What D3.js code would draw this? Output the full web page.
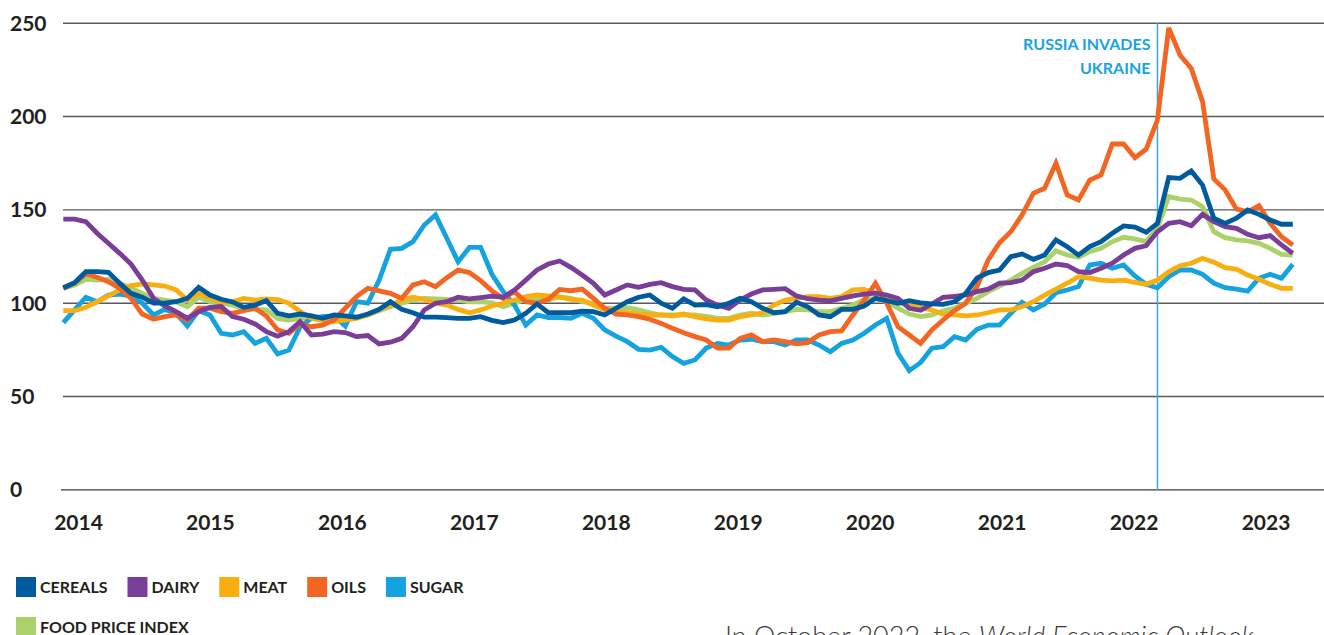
<!DOCTYPE html>
<html><head><meta charset="utf-8">
<script src="https://cdn.jsdelivr.net/npm/d3@7"></script>
<style>
body{margin:0;background:#fff;}
svg{display:block;}
text{font-family:Lato,"Open Sans",sans-serif;}
</style>
</head><body>
<svg id="c" width="1324" height="635"></svg>
<script>
// ---------- DATA ----------
const months = d3.timeMonth.range(new Date(2014,0,1), new Date(2023,2,1)).map(d3.timeFormat("%Y-%m"));
const yearLabels = ["2014","2015","2016","2017","2018","2019","2020","2021","2022","2023"];
const yTicks = [0,50,100,150,200,250];
const seriesNames = ["CEREALS","DAIRY","MEAT","OILS","SUGAR","FOOD PRICE INDEX"];
const invasionMonth = "2022-02";
const annotationLines = ["RUSSIA INVADES","UKRAINE"];

const cereals = [108.3,111,116.9,116.9,116.6,110.7,105.3,103.2,100,100,100.8,102.6,108.5,104.4,102.1,100.7,97.8,99,101.4,94.6,
93.2,94.2,93.2,91.9,93.7,93.2,92.5,94.2,96.7,100.8,96.7,94.9,92.5,92.5,92.3,91.9,91.9,92.8,90.8,89.6,
91,94.6,99.6,94.9,94.9,94.9,95.8,95.5,93.7,97.3,100.8,103.2,104.4,100,97.3,102.3,99,99.2,98.1,100,
102.6,100.8,97.3,94.9,95.5,100.5,98.1,93.7,92.8,96.7,96.7,98.5,102.6,101.4,100,101.4,100.2,99.6,99.4,100.8,
105.3,113.4,116.4,117.8,124.9,126.4,123.5,125.8,133.9,130.3,125.8,130.3,133,137.5,141.4,140.8,138,142.8,167.3,166.9,
170.8,163.3,145.5,142.8,145.5,149.9,147.6,144.6,142.3,142.3];

const dairy = [145,145,143.7,137.5,132.1,126.7,121,112.4,102.6,98.5,95.5,91.9,95.5,97.8,98.3,92.8,91.4,88.9,84.8,82.3,
84.8,90.1,83,83.5,84.8,84.3,82.1,82.7,78.2,79.1,81.2,87.4,96.4,100,100.8,103.2,102.3,103,103.8,103.2,
107.1,112.4,117.8,121,122.6,119.2,115.1,110.7,104.4,107.1,109.8,108.5,110.1,111,108.9,107.4,107.1,101.7,99,97.3,
101.7,104.9,107.1,107.4,107.8,103.9,102.4,101.7,101.3,102.6,103.9,104.9,105.4,104.4,102.6,97.3,96.2,99.6,103.2,103.6,
104.4,106.2,107.5,110.7,111,112.4,116.9,118.7,121,120.2,116.9,116.4,118.7,121.4,125.8,129.4,130.8,138.3,142.8,143.7,
141.5,147.6,143.7,141,140.1,136.9,135.1,136.2,131.2,126.7];

const meat = [96,96,97.8,100.8,103.9,107.1,109.4,110.3,109.8,109.2,107.1,101.7,105.3,102.6,100.8,100.8,102.6,101.7,102.3,101.9,
100,95.5,91.9,90.7,90.1,91,91.9,93.7,96.7,99,101.7,103.2,102.1,100,99,96.7,94.9,96.4,98.5,100,
101.7,103.5,104.4,103.9,103.2,102.1,101.7,99,96.4,95.5,94.9,94.2,93.7,93.7,93.2,94.2,92.8,91.6,91,91,
92.8,93.7,94.9,99,101.7,102.6,103.5,103.5,102.6,103.5,107.1,107.4,105.4,101.7,100.3,99,97.8,96.4,94.2,93.7,
93.2,93.7,94.9,96.4,96.4,98.2,100.8,104.4,107.5,110.7,114.2,113.4,112.4,112,112.4,111.2,110.1,112.4,116.9,120.1,
121.4,124.1,122,119,118.3,115.1,112.8,110.1,108,108];

const oils = [108,110.7,115.7,113.9,111.5,108,102.6,94.2,91.4,92.8,93.7,91,97.3,97.3,95.5,94.6,96,97.3,93.2,85.7,
83.9,88.9,87.4,88.3,91,97.3,103.5,108,106.6,105.3,102.6,109.8,111.5,108.9,113.7,117.8,116.4,112.1,106.6,102.6,
106.2,100.8,100,102.1,107.4,106.7,107.6,102.6,97.3,94.2,93.7,92.8,91.4,89.2,86.6,84.2,82.1,80.3,75.9,75.9,
81.2,83,79.4,80.3,79.4,78.2,78.9,83,84.8,85.2,93.7,101.7,110.7,100,87.4,83,78.5,85.7,91,96,
100,108.9,123.2,132.4,138.3,147.3,158.9,161.6,175,158,155.3,166,168.7,185.3,185.3,178,182.5,198.2,247.5,233,
225.8,208,166.6,160.7,150.5,149,152.3,142.8,135.6,131.2];

const sugar = [89.6,96.4,103.2,100.8,104.4,104.9,103.9,100,93.7,96.7,94.6,87.8,96,93.7,83.9,83,84.8,78.5,81.2,72.8,
74.9,87.4,91.9,92.8,93.2,87.8,100.8,100,112.4,128.9,129.4,133,141.9,147.3,134.8,122.2,129.9,129.9,115.5,106.2,
99,88.3,93.7,92.3,92.3,91.9,94.6,91.9,85.7,82.4,79.4,75.3,74.9,76.4,71.4,67.8,69.6,76,78.5,77.6,
80.3,80.7,79.4,79.4,77.6,80.3,80.3,77.6,74,78.5,80.3,83.9,88.3,91.9,73.2,63.9,68.2,75.9,76.7,82.1,
80.3,86,88.3,88.3,94.6,100.5,96.4,99.6,105.6,107.1,108.9,120.5,121.4,118.7,120.5,114.6,110.1,108.3,114.2,117.8,
117.8,115.5,110.7,108.3,107.6,106.5,113.4,115.5,113.4,120.9];

const foodIndex = [108,109.8,112.8,112.4,112.8,110.7,108,105.3,102.6,101.7,100.8,98.1,103.2,100.8,100,99,97.3,96.7,96.4,91.9,
91,91.9,92.3,91.9,93.2,91.9,92.5,93.7,96,98.1,100,101.7,102.6,102.3,102.1,101.7,100.8,100.8,100.2,98.1,
100,102.1,102.6,101.7,103.5,102.6,100.8,100,97.3,97.3,97.6,96.4,94.9,93.7,93.7,93.7,93.7,93,91.9,91.9,
93.7,94.6,93.7,94.6,95.5,96.7,96.4,95.5,95.5,97.3,99,102.1,102.6,100.8,97.3,94.2,92.8,93.7,96,97.3,
100,102.6,106.2,109.2,112.4,116,119.2,122.2,128.1,125.8,124.6,127.6,129.4,133,135.3,134.5,133,140.1,157.1,155.8,
155.3,151.7,138.3,135.1,133.9,133.4,132.1,129.4,126.2,125.8];

const colors = {"CEREALS":"#005a9e","DAIRY":"#7a3d98","MEAT":"#f9ae0f","OILS":"#f26522","SUGAR":"#14a3de","FOOD PRICE INDEX":"#abd26a"};
const seriesValues = {"CEREALS":cereals,"DAIRY":dairy,"MEAT":meat,"OILS":oils,"SUGAR":sugar,"FOOD PRICE INDEX":foodIndex};
const drawOrder = ["FOOD PRICE INDEX","SUGAR","MEAT","OILS","DAIRY","CEREALS"];

// ---------- CHART ----------
const svg = d3.select("#c");
const x = d3.scalePoint().domain(months).range([63.3, 1292.8]);
const y = d3.scaleLinear().domain([0,250]).range([489.9, 23.2]);
const xYear = d3.scalePoint().domain(yearLabels).range([78.5, 1266]);
const ink = "#231f20";

// gridlines
svg.append("g").selectAll("line").data(yTicks).join("line")
  .attr("x1", d => d === 0 ? 61 : 63).attr("x2", 1324)
  .attr("y1", d => y(d)).attr("y2", d => y(d))
  .attr("stroke", d => d === 0 ? "#3a3a3a" : "#5a5a5a")
  .attr("stroke-width", 1.4);

// y labels
svg.append("g").selectAll("text").data(yTicks).join("text")
  .attr("x", 10).attr("y", d => y(d)).attr("dy", "0.36em")
  .attr("font-size", 21).attr("font-weight", 700).attr("fill", ink)
  .text(d => d);

// x labels
svg.append("g").selectAll("text").data(yearLabels).join("text")
  .attr("x", d => xYear(d)).attr("y", 529.5).attr("text-anchor","middle")
  .attr("font-size", 21).attr("font-weight", 700).attr("fill", ink)
  .text(d => d);

// invasion line
svg.append("line")
  .attr("x1", x(invasionMonth)).attr("x2", x(invasionMonth))
  .attr("y1", y(250)).attr("y2", y(0))
  .attr("stroke", "#3aa8dd").attr("stroke-width", 1.5);

// series lines
const line = d3.line().x((d,i) => x(months[i])).y(d => y(d));
svg.append("g").selectAll("path").data(drawOrder).join("path")
  .attr("d", k => line(seriesValues[k]))
  .attr("fill","none")
  .attr("stroke", k => colors[k])
  .attr("stroke-width", 4.8)
  .attr("stroke-linejoin","miter")
  .attr("stroke-miterlimit", 3);

// annotation
svg.append("g").selectAll("text").data(annotationLines).join("text")
  .attr("x", x(invasionMonth) - 7)
  .attr("y", (d,i) => 49.5 + i*24)
  .attr("text-anchor","end")
  .attr("font-size", 16).attr("font-weight", 700).attr("fill", "#1ba3de")
  .text(d => d);

// legend
const legend = svg.append("g");
const row1 = seriesNames.slice(0,5), row2 = seriesNames.slice(5);
function drawRow(items, yTop) {
  let cx = 16;
  items.forEach(name => {
    legend.append("rect").attr("x", cx).attr("y", yTop).attr("width", 20).attr("height", 20)
      .attr("fill", colors[name]);
    const t = legend.append("text").attr("x", cx + 24).attr("y", yTop + 10).attr("dy","0.36em")
      .attr("font-size", 16).attr("font-weight", 700).attr("fill", ink).text(name);
    cx += 24 + t.node().getComputedTextLength() + 20;
  });
}
drawRow(row1, 577);
drawRow(row2, 617);

// body text (cut off at bottom edge, as in the reference)
const body = svg.append("text").attr("x", 725).attr("y", 646)
  .attr("font-family","Roboto, Lato, sans-serif").attr("font-weight",300)
  .attr("font-size", 27).attr("fill", "#3a3a3a");
body.append("tspan").text("In October 2022, the ");
body.append("tspan").attr("font-style","italic").text("World Economic Outlook");
</script>
</body></html>
